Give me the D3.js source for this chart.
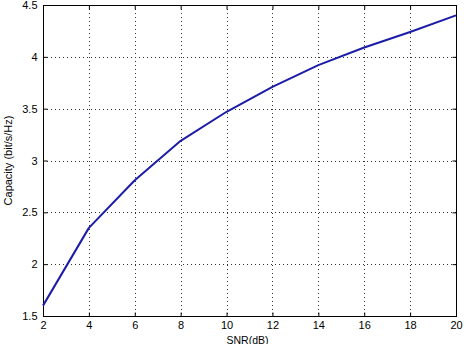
<!DOCTYPE html>
<html><head><meta charset="utf-8">
<script src="https://cdn.jsdelivr.net/npm/d3@7"></script>
<style>body{margin:0;background:#fff}svg{display:block}text{font-family:"Liberation Sans",Arial,sans-serif}</style>
</head><body><svg id="c" width="466" height="344"></svg>
<script>
const snr = [2, 4, 6, 8, 10, 12, 14, 16, 18, 20];
const capacity = [1.6, 2.35, 2.81, 3.19, 3.47, 3.71, 3.92, 4.09, 4.24, 4.40];
const xTicks = [2, 4, 6, 8, 10, 12, 14, 16, 18, 20];
const yTicks = [1.5, 2, 2.5, 3, 3.5, 4, 4.5];
const xLabel = "SNR(dB)";
const yLabel = "Capacity (bit/s/Hz)";

const svg = d3.select("#c");
const L = 43, R = 456, T = 5, B = 316;
const x = d3.scaleLinear().domain([2, 20]).range([L, R]);
const y = d3.scaleLinear().domain([1.5, 4.5]).range([B, T]);

// grid
const g = svg.append("g");
g.selectAll(".gx").data(xTicks.slice(1, -1)).enter().append("line")
  .attr("x1", d => Math.round(x(d)) + 0.5).attr("x2", d => Math.round(x(d)) + 0.5)
  .attr("y1", T).attr("y2", B)
  .attr("stroke", "#333").attr("stroke-width", 1).attr("stroke-dasharray", "1,3");
g.selectAll(".gy").data(yTicks.slice(1, -1)).enter().append("line")
  .attr("y1", d => Math.round(y(d)) + 0.5).attr("y2", d => Math.round(y(d)) + 0.5)
  .attr("x1", L).attr("x2", R)
  .attr("stroke", "#333").attr("stroke-width", 1).attr("stroke-dasharray", "1,3");

// axes with inward ticks
const fmt = d => String(d);
const ax = (gen, tx, ty) => {
  const a = svg.append("g").attr("transform", `translate(${tx},${ty})`).call(gen);
  a.select(".domain").remove();
  a.selectAll("line").attr("stroke", "#000");
  a.selectAll("text").attr("font-size", 11).attr("fill", "#000");
  return a;
};
ax(d3.axisBottom(x).tickValues(xTicks).tickFormat(fmt).tickSizeInner(-4).tickSizeOuter(0).tickPadding(5), 0, B + 0.5);
ax(d3.axisLeft(y).tickValues(yTicks).tickFormat(fmt).tickSizeInner(-4).tickSizeOuter(0).tickPadding(6), L + 0.5, 0);
ax(d3.axisTop(x).tickValues(xTicks).tickFormat("").tickSizeInner(-4).tickSizeOuter(0), 0, T + 0.5);
ax(d3.axisRight(y).tickValues(yTicks).tickFormat("").tickSizeInner(-4).tickSizeOuter(0), R + 0.5, 0);

svg.append("rect").attr("x", L + 0.5).attr("y", T + 0.5).attr("width", R - L).attr("height", B - T)
  .attr("fill", "none").attr("stroke", "#000").attr("stroke-width", 1);

// line
svg.append("path").datum(snr.map((s, i) => [s, capacity[i]]))
  .attr("d", d3.line().x(d => x(d[0])).y(d => y(d[1])))
  .attr("fill", "none").attr("stroke", "#1c1ca8").attr("stroke-width", 2).attr("stroke-linejoin", "round");

// labels
svg.append("text").attr("x", (L + R) / 2 - 2).attr("y", 343.5).attr("text-anchor", "middle")
  .attr("font-size", 10.5).text(xLabel);
svg.append("text").attr("transform", `translate(12,${(T + B) / 2}) rotate(-90)`).attr("text-anchor", "middle")
  .attr("font-size", 11).text(yLabel);
</script></body></html>
